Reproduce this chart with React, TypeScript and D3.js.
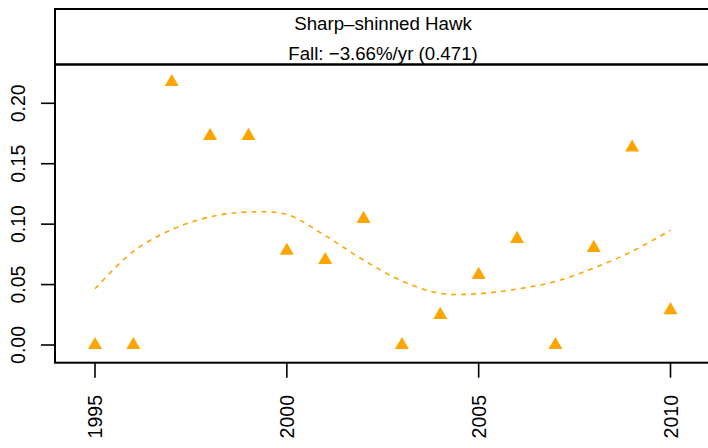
import React, { useEffect, useRef } from "react";
import * as d3 from "d3";

const years = [1995, 1996, 1997, 1998, 1999, 2000, 2001, 2002, 2003, 2004, 2005, 2006, 2007, 2008, 2009, 2010];
const counts = [0, 0, 0.2176, 0.173, 0.173, 0.078, 0.0703, 0.1044, 0, 0.0249, 0.058, 0.0878, 0, 0.0803, 0.1634, 0.0288];
const smooth = [0.0465, 0.0775, 0.0955, 0.106, 0.11, 0.108, 0.0905, 0.0703, 0.053, 0.0427, 0.0425, 0.0463, 0.0526, 0.0637, 0.0775, 0.095];
const yTicks = [0, 0.05, 0.1, 0.15, 0.2];
const xTicks = [1995, 2000, 2005, 2010];
const title = "Sharp\u2013shinned Hawk";
const subtitle = "Fall: \u22123.66%/yr (0.471)";

const W = 708;
const H = 448;
const left = 55;
const stripTop = 9;
const stripBottom = 64.5;
const plotBottom = 362.7;
const orange = "#FFA500";
const font = "'Liberation Sans', Arial, Helvetica, sans-serif";

export default function App() {
  const ref = useRef<SVGSVGElement>(null);

  useEffect(() => {
    const svg = d3.select(ref.current);
    svg.selectAll("*").remove();

    const x = d3.scaleLinear().domain([1995, 2010]).range([95, 670.5]);
    const y = d3.scaleLinear().domain([0, 0.2]).range([345, 103.3]);

    // strip with title
    svg.append("rect")
      .attr("x", left).attr("y", stripTop)
      .attr("width", W + 20).attr("height", stripBottom - stripTop)
      .attr("fill", "white").attr("stroke", "black").attr("stroke-width", 2);

    svg.append("text")
      .attr("x", 383).attr("y", 30)
      .attr("text-anchor", "middle")
      .style("font-family", font).style("font-size", "18.7px")
      .text(title);
    svg.append("text")
      .attr("x", 383).attr("y", 59.5)
      .attr("text-anchor", "middle")
      .style("font-family", font).style("font-size", "18.7px")
      .text(subtitle);

    // plot box
    svg.append("rect")
      .attr("x", left).attr("y", stripBottom)
      .attr("width", W + 20).attr("height", plotBottom - stripBottom)
      .attr("fill", "none").attr("stroke", "black").attr("stroke-width", 2);

    // y axis
    const yAxis = svg.append("g");
    yAxis.selectAll("line").data(yTicks).enter().append("line")
      .attr("x1", left - 14).attr("x2", left)
      .attr("y1", (d) => y(d)).attr("y2", (d) => y(d))
      .attr("stroke", "black").attr("stroke-width", 1.6);
    yAxis.selectAll("text").data(yTicks).enter().append("text")
      .attr("transform", (d) => `translate(25, ${y(d)}) rotate(-90)`)
      .attr("text-anchor", "middle")
      .style("font-family", font).style("font-size", "19.5px")
      .text((d) => d3.format(".2f")(d));

    // x axis
    const xAxis = svg.append("g");
    xAxis.selectAll("line").data(xTicks).enter().append("line")
      .attr("x1", (d) => x(d)).attr("x2", (d) => x(d))
      .attr("y1", plotBottom).attr("y2", plotBottom + 15)
      .attr("stroke", "black").attr("stroke-width", 1.6);
    xAxis.selectAll("text").data(xTicks).enter().append("text")
      .attr("transform", (d) => `translate(${x(d) + 7}, 395) rotate(-90)`)
      .attr("text-anchor", "end")
      .style("font-family", font).style("font-size", "19.5px")
      .text((d) => String(d));

    // smoothed trend
    const line = d3.line<number>()
      .x((_, i) => x(years[i]))
      .y((d) => y(d))
      .curve(d3.curveCatmullRom);
    svg.append("path")
      .datum(smooth)
      .attr("d", line)
      .attr("fill", "none")
      .attr("stroke", orange)
      .attr("stroke-width", 1.6)
      .attr("stroke-dasharray", "5,5");

    // points
    const tri = d3.symbol().type(d3.symbolTriangle).size(85);
    svg.selectAll(".pt").data(counts).enter().append("path")
      .attr("class", "pt")
      .attr("transform", (d, i) => `translate(${x(years[i])}, ${y(d)})`)
      .attr("d", tri)
      .attr("fill", orange);
  }, []);

  return (
    <svg
      ref={ref}
      width={W}
      height={H}
      viewBox={`0 0 ${W} ${H}`}
      style={{ position: "absolute", left: 0, top: 0, background: "white" }}
    />
  );
}
